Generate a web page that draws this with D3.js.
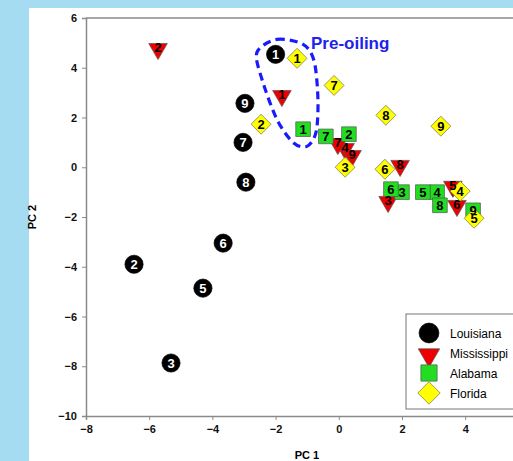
<!DOCTYPE html>
<html>
<head>
<meta charset="utf-8">
<script src="https://cdn.jsdelivr.net/npm/d3@7"></script>
<style>
body { margin: 0; background: #a6dcf2; }
text { font-family: Arial, "Liberation Sans", sans-serif; }
</style>
</head>
<body>
<div id="chart"></div>
<script>
// point labels are sample numbers, values are PC1 / PC2
var louisiana_ids = [1, 2, 3, 5, 6, 7, 8, 9];
var louisiana_pc1 = [-2.0, -6.48, -5.31, -4.30, -3.66, -3.03, -2.94, -2.97];
var louisiana_pc2 = [4.54, -3.9, -7.87, -4.86, -3.05, 1.0, -0.6, 2.57];

var mississippi_ids = [1, 2, 3, 4, 5, 6, 7, 8, 9];
var mississippi_pc1 = [-1.80, -5.72, 1.56, 0.20, 3.61, 3.74, -0.03, 1.94, 0.42];
var mississippi_pc2 = [2.93, 4.82, -1.33, 0.8, -0.72, -1.49, 1.0, 0.12, 0.52];

var alabama_ids = [1, 2, 3, 4, 5, 6, 7, 8, 9];
var alabama_pc1 = [-1.13, 0.32, 2.0, 3.11, 2.66, 1.65, -0.41, 3.2, 4.25];
var alabama_pc2 = [1.53, 1.33, -1.0, -1.0, -1.0, -0.88, 1.24, -1.53, -1.73];

var florida_ids = [1, 2, 3, 4, 5, 6, 7, 8, 9];
var florida_pc1 = [-1.32, -2.46, 0.2, 3.84, 4.28, 1.46, -0.15, 1.49, 3.23];
var florida_pc2 = [4.38, 1.73, 0, -0.96, -2.05, -0.08, 3.29, 2.09, 1.65];

var x_ticks = [-8, -6, -4, -2, 0, 2, 4];
var y_ticks = [-10, -8, -6, -4, -2, 0, 2, 4, 6];

// pre-oiling outline, in PC units
var loop_pc1 = [-2.59, -1.96, -1.13, -0.78, -0.66, -0.72, -1.01, -1.45, -1.96, -2.43];
var loop_pc2 = [4.62, 5.14, 4.94, 4.26, 2.73, 1.41, 0.84, 1.0, 1.93, 3.53];

var width = 513, height = 461;

var svg = d3.select('#chart').append('svg')
	.attr('width', width)
	.attr('height', height);

svg.append('rect')
	.attr('x', 29).attr('y', 8)
	.attr('width', width - 29).attr('height', height - 8)
	.attr('fill', '#ffffff');

var x_scale = d3.scaleLinear().domain([-8, 6]).range([86, 528.4]);
var y_scale = d3.scaleLinear().domain([-10, 6]).range([416, 18]);

// top frame
svg.append('line')
	.attr('x1', x_scale(-8)).attr('x2', x_scale(6))
	.attr('y1', y_scale(6)).attr('y2', y_scale(6))
	.attr('stroke', '#8a8a8a').attr('stroke-width', 1.5);

var x_axis = svg.append('g')
	.attr('transform', 'translate(0,' + y_scale(-10) + ')')
	.call(d3.axisBottom(x_scale).tickValues(x_ticks).tickSize(4).tickPadding(5));
var y_axis = svg.append('g')
	.attr('transform', 'translate(' + x_scale(-8) + ',0)')
	.call(d3.axisLeft(y_scale).tickValues(y_ticks).tickSize(4).tickPadding(5));

[x_axis, y_axis].forEach(function (g) {
	g.select('.domain').attr('stroke', '#8a8a8a').attr('stroke-width', 1.5);
	g.selectAll('.tick line').attr('stroke', '#8a8a8a').attr('stroke-width', 1);
	g.selectAll('.tick text')
		.attr('fill', '#111')
		.style('font-family', 'Arial, "Liberation Sans", sans-serif')
		.style('font-size', '11px')
		.style('font-weight', 'bold');
});

svg.append('text')
	.attr('x', 307).attr('y', 459)
	.attr('text-anchor', 'middle')
	.style('font-size', '11px').style('font-weight', 'bold')
	.text('PC 1');
svg.append('text')
	.attr('transform', 'translate(36,' + y_scale(-2) + ') rotate(-90)')
	.attr('text-anchor', 'middle')
	.style('font-size', '11px').style('font-weight', 'bold')
	.text('PC 2');

// dashed outline
var loop = d3.line()
	.x(function (d) { return x_scale(d[0]); })
	.y(function (d) { return y_scale(d[1]); })
	.curve(d3.curveCardinalClosed.tension(0.1));
svg.append('path')
	.attr('d', loop(d3.zip(loop_pc1, loop_pc2)))
	.attr('fill', 'none')
	.attr('stroke', '#1a1aff')
	.attr('stroke-width', 3.2)
	.attr('stroke-dasharray', '8,5');

svg.append('text')
	.attr('x', 311).attr('y', 49)
	.attr('fill', '#2222ee')
	.style('font-size', '17px').style('font-weight', 'bold')
	.text('Pre-oiling');

var groups = [
	{ name: 'Louisiana', ids: louisiana_ids, pc1: louisiana_pc1, pc2: louisiana_pc2,
	  shape: d3.symbolCircle, size: 260, fill: '#000000', stroke: '#000000', label: '#ffffff', rot: 0 },
	{ name: 'Mississippi', ids: mississippi_ids, pc1: mississippi_pc1, pc2: mississippi_pc2,
	  shape: d3.symbolTriangle, size: 150, fill: '#ee0000', stroke: '#555555', label: '#000000', rot: 180 },
	{ name: 'Alabama', ids: alabama_ids, pc1: alabama_pc1, pc2: alabama_pc2,
	  shape: d3.symbolSquare, size: 215, fill: '#22dd22', stroke: '#555555', label: '#000000', rot: 0 },
	{ name: 'Florida', ids: florida_ids, pc1: florida_pc1, pc2: florida_pc2,
	  shape: d3.symbolSquare, size: 200, fill: '#ffff00', stroke: '#777755', label: '#000000', rot: 45 }
];

groups.forEach(function (grp) {
	var pts = d3.zip(grp.ids, grp.pc1, grp.pc2);
	svg.append('g').selectAll('path')
		.data(pts)
		.enter()
		.append('path')
		.attr('d', d3.symbol().type(grp.shape).size(grp.size))
		.attr('transform', function (d) {
			var dy = grp.rot === 180 ? 1.5 : 0;
			return 'translate(' + x_scale(d[1]) + ',' + (y_scale(d[2]) + dy) + ') rotate(' + grp.rot + ')';
		})
		.attr('fill', grp.fill)
		.attr('stroke', grp.stroke)
		.attr('stroke-width', 0.7);
});

groups.forEach(function (grp) {
	var pts = d3.zip(grp.ids, grp.pc1, grp.pc2);
	svg.append('g').selectAll('text')
		.data(pts)
		.enter()
		.append('text')
		.attr('x', function (d) { return x_scale(d[1]); })
		.attr('y', function (d) { return y_scale(d[2]) + 4.5; })
		.attr('text-anchor', 'middle')
		.attr('fill', grp.label)
		.style('font-size', '13px').style('font-weight', 'bold')
		.text(function (d) { return d[0]; });
});

// legend
var legend = svg.append('g').attr('transform', 'translate(406,314)');
legend.append('rect')
	.attr('width', 140).attr('height', 95)
	.attr('fill', '#ffffff')
	.attr('stroke', '#777777').attr('stroke-width', 1);
groups.forEach(function (grp, i) {
	var ly = 19 + i * 20;
	legend.append('path')
		.attr('d', d3.symbol().type(grp.shape).size(grp.size + 50))
		.attr('transform', 'translate(23,' + (ly + (grp.rot === 180 ? 2 : 0)) + ') rotate(' + grp.rot + ')')
		.attr('fill', grp.fill)
		.attr('stroke', grp.stroke)
		.attr('stroke-width', 0.7);
	legend.append('text')
		.attr('x', 44).attr('y', ly + 4.5)
		.style('font-size', '12px')
		.text(grp.name);
});
</script>
</body>
</html>
